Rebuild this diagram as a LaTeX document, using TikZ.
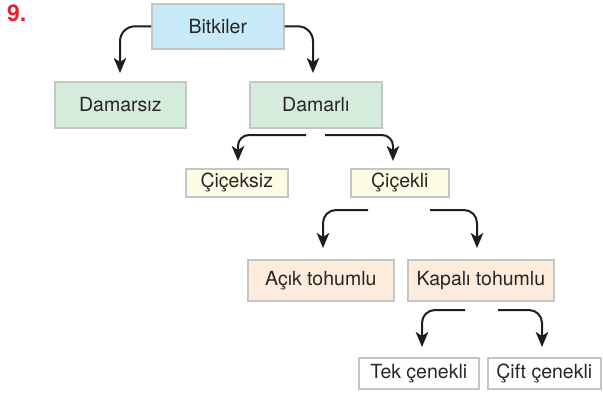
\documentclass[tikz,border=0pt]{standalone}
\usepackage{fontspec}
\setmainfont{TeX Gyre Heros}
\usetikzlibrary{arrows.meta,calc}
\definecolor{boxline}{HTML}{C4C6C6}
\definecolor{fblue}{HTML}{C8E9F8}
\definecolor{fgreen}{HTML}{D5ECDD}
\definecolor{fyellow}{HTML}{FFFCE6}
\definecolor{fpeach}{HTML}{FDEBDC}
\definecolor{arrowc}{HTML}{1E1E1E}
\definecolor{numred}{HTML}{E8202A}
\tikzset{
  box/.style={draw=boxline, line width=1.6pt, inner sep=0pt, anchor=north west,
    font=\fontsize{19.5}{22}\selectfont, text=black!85},
  arr/.style={draw=arrowc, line width=2pt,
    -{Stealth[length=15pt, width=12.5pt, inset=4pt]}},
}
\begin{document}
\begin{tikzpicture}[x=1pt, y=-1pt]
  \useasboundingbox (0,0) rectangle (603,400);
  \fill[white] (0,0) rectangle (603,400);

  \node[anchor=north west, text=numred, font=\fontsize{23}{24}\selectfont\bfseries,
        inner sep=0pt] (num) at (7,5) {9.};

  % Boxes: corners in pixel units
  \node[box, fill=fblue,   minimum width=132pt, minimum height=45pt] (bit) at (151,3)   {Bitkiler};
  \node[box, fill=fgreen,  minimum width=131pt, minimum height=46pt] (dz)  at (54,81)   {Damarsız};
  \node[box, fill=fgreen,  minimum width=132pt, minimum height=46pt] (dl)  at (249,81)  {Damarlı};
  \node[box, fill=fyellow, minimum width=102pt, minimum height=28pt] (cz)  at (185,168) {Çiçeksiz};
  \node[box, fill=fyellow, minimum width=98pt,  minimum height=28pt] (ck)  at (350,168) {Çiçekli};
  \node[box, fill=fpeach,  minimum width=146pt, minimum height=41pt] (ac)  at (247,259) {Açık tohumlu};
  \node[box, fill=fpeach,  minimum width=146pt, minimum height=41pt] (kp)  at (407,259) {Kapalı tohumlu};
  \node[box, fill=white,   minimum width=120pt, minimum height=31pt] (tk)  at (358,357) {Tek çenekli};
  \node[box, fill=white,   minimum width=113pt, minimum height=31pt] (cf)  at (487,357) {Çift çenekli};

  % Connector start and end points
  \coordinate (b1) at (bit.west);
  \coordinate (b2) at (bit.east);
  \coordinate (e1) at (120,73);
  \coordinate (e2) at (313,73);

  \coordinate (d1) at (306,135);
  \coordinate (d2) at (325,135);
  \coordinate (f1) at (238,161);
  \coordinate (f2) at (393,161);

  \coordinate (c1) at (368,210);
  \coordinate (c2) at (430,210);
  \coordinate (g1) at (323,248);
  \coordinate (g2) at (477,248);

  \coordinate (k1) at (465,310);
  \coordinate (k2) at (498,310);
  \coordinate (h1) at (422,347);
  \coordinate (h2) at (542,347);

  \draw[arr, rounded corners=15pt] (b1) -| (e1);
  \draw[arr, rounded corners=15pt] (b2) -| (e2);
  \draw[arr, rounded corners=11pt] (d1) -| (f1);
  \draw[arr, rounded corners=11pt] (d2) -| (f2);
  \draw[arr, rounded corners=13pt] (c1) -| (g1);
  \draw[arr, rounded corners=13pt] (c2) -| (g2);
  \draw[arr, rounded corners=13pt] (k1) -| (h1);
  \draw[arr, rounded corners=13pt] (k2) -| (h2);
\end{tikzpicture}
\end{document}
